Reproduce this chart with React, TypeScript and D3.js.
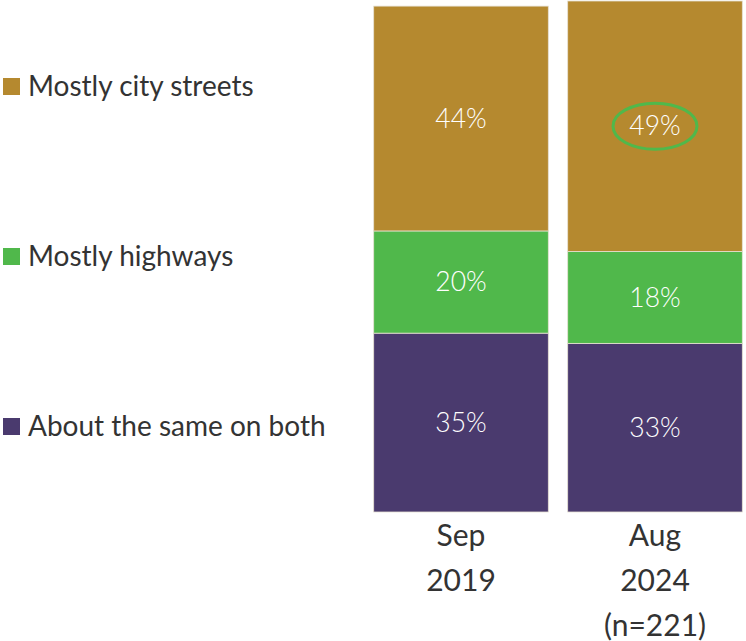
import React from "react";
import * as d3 from "d3";

const periods = ["Sep 2019", "Aug 2024"];
const periodLines = [["Sep", "2019"], ["Aug", "2024", "(n=221)"]];
const categories = ["About the same on both", "Mostly highways", "Mostly city streets"];
const sameOnBoth = [35, 33];
const mostlyHighways = [20, 18];
const mostlyCityStreets = [44, 49];
const colors = ["#4a3a6e", "#50b84b", "#b5892f"];

const W = 746, H = 641;
const font = "Lato, 'Open Sans', sans-serif";

export default function App() {
  const series = [sameOnBoth, mostlyHighways, mostlyCityStreets];
  const rows = periods.map((p, i) => ({
    period: p,
    same: sameOnBoth[i],
    highways: mostlyHighways[i],
    city: mostlyCityStreets[i],
  }));
  const stack = d3.stack<any>().keys(["same", "highways", "city"]);
  const stacked = stack(rows);

  const x = d3.scaleBand().domain(periods).range([364, 752]).paddingInner(0.1).paddingOuter(0.05);
  const y = d3.scaleLinear().domain([0, 100]).range([512, 1]);

  // legend rows, top to bottom
  const legendY = d3.scalePoint().domain(categories.slice().reverse()).range([86, 426]);

  return (
    <svg width={W} height={H} style={{ position: "absolute", left: 0, top: 0, background: "#fff" }}>
      {stacked.map((layer, li) => (
        <g key={li}>
          {layer.map((d, i) => {
            const x0 = x(periods[i])!;
            const bw = x.bandwidth();
            const y0 = y(d[1]);
            const y1 = y(d[0]);
            return (
              <g key={i}>
                <rect x={x0} y={y0} width={bw} height={y1 - y0} fill={colors[li]} stroke="#e6e0d2" strokeWidth={0.8} />
                <text x={x0 + bw / 2} y={(y0 + y1) / 2} dy="0.35em" textAnchor="middle" fill="#fff"
                  fontFamily={font} fontWeight={300} fontSize={26.5}>
                  {series[li][i]}%
                </text>
              </g>
            );
          })}
        </g>
      ))}
      {/* highlight on the latest city-streets value */}
      {(() => {
        const d = stacked[2][1];
        const cx = x(periods[1])! + x.bandwidth() / 2;
        const cy = (y(d[0]) + y(d[1])) / 2;
        return <ellipse cx={cx} cy={cy} rx={42} ry={23} fill="none" stroke="#50b84b" strokeWidth={3} />;
      })()}
      {periodLines.map((lines, i) => (
        <text key={i} x={x(periods[i])! + x.bandwidth() / 2} textAnchor="middle" fill="#333"
          fontFamily={font} fontSize={30}>
          {lines.map((l, j) => (
            <tspan key={j} x={x(periods[i])! + x.bandwidth() / 2} y={546 + j * 45}>{l}</tspan>
          ))}
        </text>
      ))}
      {categories.map((c, i) => (
        <g key={c} transform={`translate(0,${legendY(c)})`}>
          <rect x={3} y={-8} width={17} height={17} fill={colors[i]} />
          <text x={28} y={0} dy="0.35em" fill="#333" fontFamily={font} fontSize={28}>{c}</text>
        </g>
      ))}
    </svg>
  );
}
